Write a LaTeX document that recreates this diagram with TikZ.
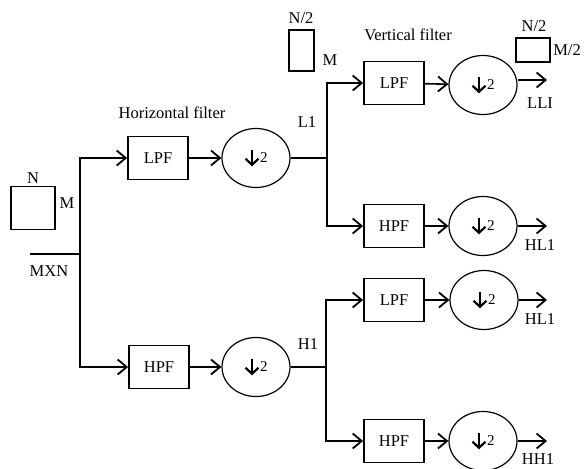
\documentclass[tikz,border=0pt]{standalone}
\usepackage{amsmath}
\usepackage{fontspec}
\setmainfont{Liberation Serif}
\usetikzlibrary{arrows.meta,shapes.geometric}
\tikzset{
  filt/.style = {draw, line width=1.8pt, minimum width=60pt, minimum height=43pt,
                 inner sep=0pt},
  dsmp/.style = {ellipse, draw, line width=1.2pt, minimum width=68pt,
                 minimum height=59pt, inner sep=0pt},
  img/.style  = {draw, line width=1.8pt, inner sep=0pt},
  wire/.style = {line width=1.6pt},
  flow/.style = {wire, -{Straight Barb[length=9pt,width=15pt,line width=1.8pt]}},
  lbl/.style  = {inner sep=1pt},
}
\newcommand{\dntwo}{\tikz[baseline=-5pt]\draw[line width=2.4pt,
  -{Straight Barb[length=6pt,width=13pt,line width=2.2pt]}] (0pt,8pt) -- (0pt,-8.5pt);%
  \hspace{0.5pt}{\fontsize{15pt}{17pt}\selectfont 2}}

\begin{document}
\begin{tikzpicture}[x=1pt, y=-1pt, font=\fontsize{16.5pt}{19pt}\selectfont]
  \useasboundingbox (0,0) rectangle (587,469);
  % input image
  \node[img, minimum width=44pt, minimum height=43pt] (inimg) at (33,208) {};
  \node[lbl] (inN) at (33,178) {N};
  \node[lbl] (inM) at (67,203) {M};
  \coordinate (in) at (30,254);
  \coordinate (s0) at (80,254);
  \node[lbl] (inMN) at (49,271) {MXN};
  % horizontal filter stage
  \node[lbl] (htitle) at (172,113) {Horizontal filter};
  \node[filt] (lpfA) at (158,158) {LPF};
  \node[dsmp] (dsA) at (256,158) {\dntwo};
  \node[filt] (hpfA) at (159,367) {HPF};
  \node[dsmp] (dsB) at (256,367) {\dntwo};
  \coordinate (s1) at (327,158);
  \coordinate (s2) at (326,367);
  \node[lbl] (L1) at (307,122) {L1};
  \node[lbl] (H1) at (308,344) {H1};
  % intermediate image
  \node[img, minimum width=25pt, minimum height=41pt] (midimg) at (301.5,50.5) {};
  \node[lbl] (midN) at (301,18) {N/2};
  \node[lbl] (midM) at (330,60) {M};
  % vertical filter stage
  \node[lbl] (vtitle) at (408,35) {Vertical filter};
  \node[filt] (lpfB) at (394,83) {LPF};
  \node[dsmp] (dsC) at (483,85) {\dntwo};
  \node[filt] (hpfB) at (394,226) {HPF};
  \node[dsmp] (dsD) at (483,226) {\dntwo};
  \node[filt] (lpfC) at (394,300) {LPF};
  \node[dsmp] (dsE) at (484,300) {\dntwo};
  \node[filt] (hpfC) at (394,441) {HPF};
  \node[dsmp] (dsF) at (483,441) {\dntwo};
  % output image
  \node[img, minimum width=34pt, minimum height=24pt] (outimg) at (533,50) {};
  \node[lbl] (outN) at (534,26) {N/2};
  \node[lbl] (outM) at (567,50) {M/2};
  \coordinate (oC) at (547,80);
  \coordinate (oD) at (547,226);
  \coordinate (oE) at (547,300);
  \coordinate (oF) at (547,441);
  \node[lbl] (LL) at (540,103) {LLI};
  \node[lbl] (HLa) at (540,245) {HL1};
  \node[lbl] (HLb) at (540,319) {HL1};
  \node[lbl] (HH) at (538,459) {HH1};
  % connectors
  \draw[wire] (in) -- (s0);
  \draw[flow] (s0) |- (lpfA.west);
  \draw[flow] (s0) |- (hpfA.west);
  \draw[flow] (lpfA) -- (dsA);
  \draw[flow] (hpfA) -- (dsB);
  \draw[wire] (dsA.east) -- (s1);
  \draw[wire] (dsB.east) -- (s2);
  \draw[flow] (s1) |- (lpfB.west);
  \draw[flow] (s1) |- (hpfB.west);
  \draw[flow] (s2) |- (lpfC.west);
  \draw[flow] (s2) |- (hpfC.west);
  \draw[flow] (lpfB) -- (dsC);
  \draw[flow] (hpfB) -- (dsD);
  \draw[flow] (lpfC) -- (dsE);
  \draw[flow] (hpfC) -- (dsF);
  \draw[flow] (dsC.east |- oC) -- (oC);
  \draw[flow] (dsD.east) -- (oD);
  \draw[flow] (dsE.east) -- (oE);
  \draw[flow] (dsF.east) -- (oF);
\end{tikzpicture}
\end{document}
